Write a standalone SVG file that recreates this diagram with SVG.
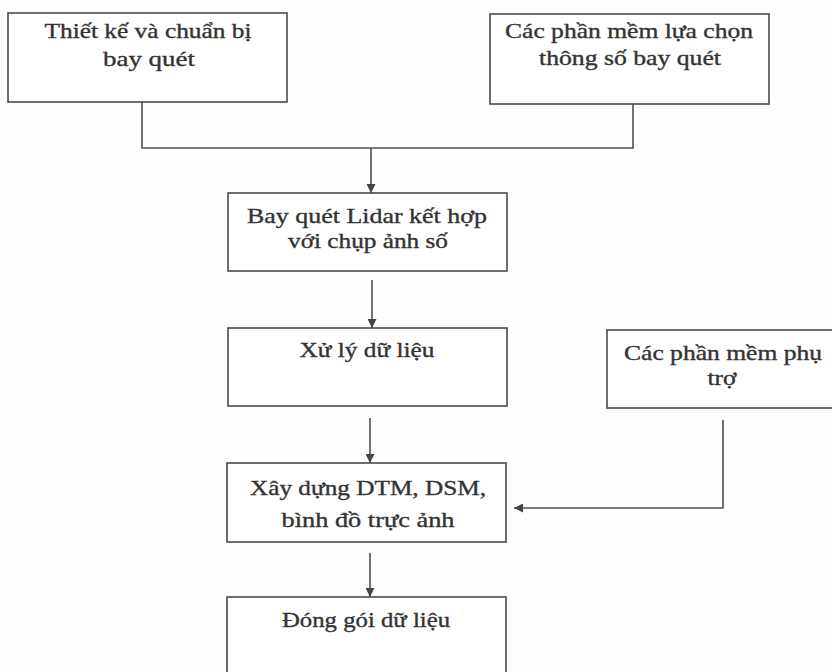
<svg xmlns="http://www.w3.org/2000/svg" width="832" height="672" viewBox="0 0 832 672">
<defs>
<style>
.box{fill:#ffffff;stroke:#4a4a4a;stroke-width:1.6}
.t{font-family:"Liberation Serif","Times New Roman",serif;font-size:21px;fill:#333333;stroke:#333333;stroke-width:0.35;text-anchor:middle}
.ln{fill:none;stroke:#505050;stroke-width:1.6}
</style>
<marker id="ah" viewBox="0 0 10 10" refX="10" refY="5" markerWidth="9" markerHeight="9" markerUnits="userSpaceOnUse" orient="auto">
<path d="M0,0 L10,5 L0,10 z" fill="#454545"/>
</marker>
</defs>
<rect width="832" height="672" fill="#fcfdfd"/>
<g id="connectors">
<polyline class="ln" points="142,102 142,148 633,148 633,104"/>
<line class="ln" x1="371" y1="148" x2="371" y2="193" marker-end="url(#ah)"/>
<line class="ln" x1="372" y1="280" x2="372" y2="328" marker-end="url(#ah)"/>
<line class="ln" x1="370" y1="418" x2="370" y2="463" marker-end="url(#ah)"/>
<polyline class="ln" points="723,420 723,508 514,508" marker-end="url(#ah)"/>
<line class="ln" x1="370" y1="553" x2="370" y2="597" marker-end="url(#ah)"/>
</g>
<g id="n1">
<rect class="box" x="8" y="13" width="279" height="89"/>
<text class="t" x="148" y="38" textLength="207" lengthAdjust="spacingAndGlyphs">Thiết kế và chuẩn bị</text>
<text class="t" x="149" y="66" textLength="92" lengthAdjust="spacingAndGlyphs">bay quét</text>
</g>
<g id="n2">
<rect class="box" x="490" y="14" width="279" height="90"/>
<text class="t" x="629" y="38" textLength="248" lengthAdjust="spacingAndGlyphs">Các phần mềm lựa chọn</text>
<text class="t" x="630" y="65" textLength="182" lengthAdjust="spacingAndGlyphs">thông số bay quét</text>
</g>
<g id="n3">
<rect class="box" x="228" y="193" width="279" height="78"/>
<text class="t" x="367" y="223" textLength="240" lengthAdjust="spacingAndGlyphs">Bay quét Lidar kết hợp</text>
<text class="t" x="368" y="248" textLength="160" lengthAdjust="spacingAndGlyphs">với chụp ảnh số</text>
</g>
<g id="n4">
<rect class="box" x="228" y="328" width="279" height="78"/>
<text class="t" x="367" y="357" textLength="135" lengthAdjust="spacingAndGlyphs">Xử lý dữ liệu</text>
</g>
<g id="n5">
<rect class="box" x="607" y="330" width="240" height="78"/>
<text class="t" x="723" y="360" textLength="198" lengthAdjust="spacingAndGlyphs">Các phần mềm phụ</text>
<text class="t" x="722" y="385" textLength="29" lengthAdjust="spacingAndGlyphs">trợ</text>
</g>
<g id="n6">
<rect class="box" x="227" y="463" width="279" height="79"/>
<text class="t" x="368" y="495" textLength="236" lengthAdjust="spacingAndGlyphs">Xây dựng DTM, DSM,</text>
<text class="t" x="368" y="527" textLength="173" lengthAdjust="spacingAndGlyphs">bình đồ trực ảnh</text>
</g>
<g id="n7">
<rect class="box" x="227" y="597" width="279" height="90"/>
<text class="t" x="366" y="627" textLength="168" lengthAdjust="spacingAndGlyphs">Đóng gói dữ liệu</text>
</g>
</svg>
